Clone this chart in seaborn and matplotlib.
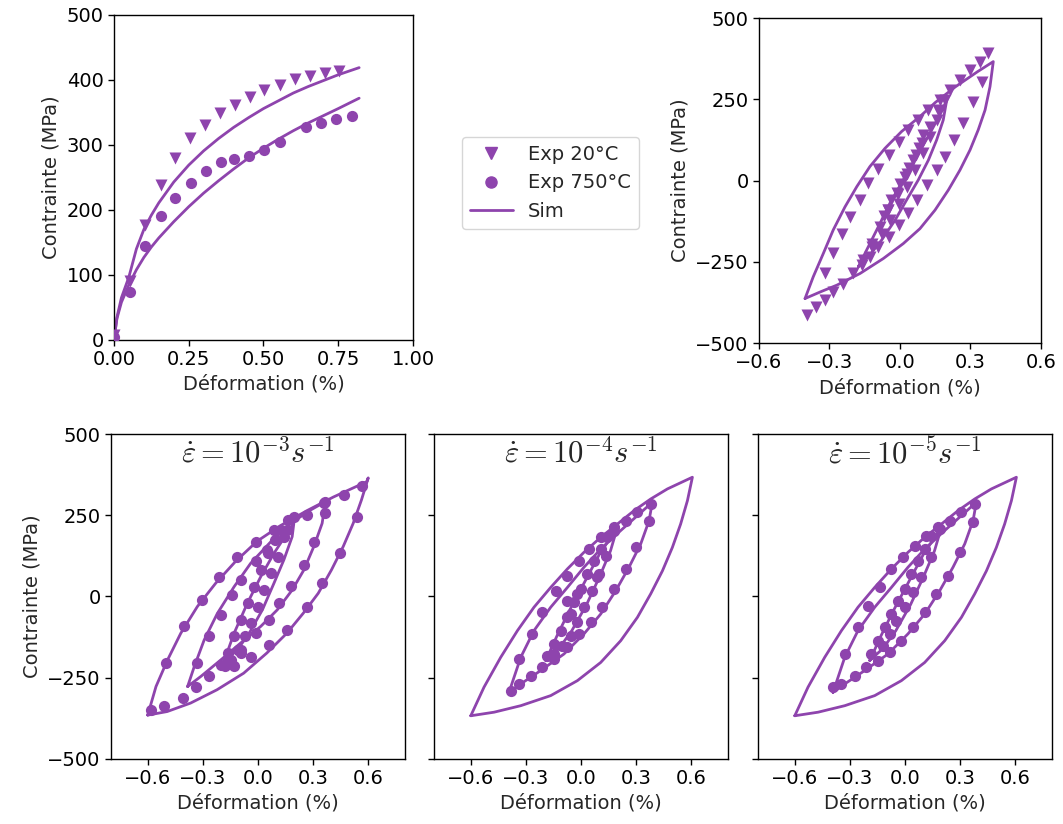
import numpy as np
import matplotlib
matplotlib.use("Agg")
import matplotlib.pyplot as plt
from matplotlib.lines import Line2D
import seaborn as sns

# ---- traction monotone (haut gauche) ----
exp20_x = [0.0, 0.052, 0.105, 0.156, 0.205, 0.253, 0.305, 0.353, 0.404, 0.454, 0.502, 0.554, 0.604, 0.654, 0.705, 0.752]
exp20_y = [8, 90, 177, 238, 280, 310, 331, 349, 362, 374, 385, 392, 401, 406, 410, 414]
exp750_x = [0.0, 0.052, 0.105, 0.156, 0.205, 0.256, 0.309, 0.359, 0.401, 0.451, 0.502, 0.554, 0.643, 0.693, 0.744, 0.797]
exp750_y = [5, 74, 145, 190, 218, 242, 260, 274, 278, 283, 293, 304, 327, 334, 340, 345]
sim_x = [0, 0.01, 0.025, 0.05, 0.075, 0.1, 0.125, 0.15, 0.2, 0.25, 0.3, 0.35, 0.4, 0.45, 0.5, 0.55, 0.6, 0.65, 0.7, 0.75, 0.82]
sim20_y = [0, 35, 65, 97, 140, 170, 192, 211, 243, 269, 291, 310, 327, 342, 356, 368, 380, 390, 399, 408, 419]
sim750_y = [0, 33, 58, 85, 108, 127, 143, 157, 182, 205, 226, 245, 263, 280, 295, 309, 322, 334, 345, 356, 372]

# ---- cyclique 20°C (haut droite) ----
tr_sim_outer_x = [-0.404, -0.369, -0.326, -0.284, -0.234, -0.184, -0.128, -0.064, 0.007, 0.085, 0.15, 0.235, 0.33, 0.397,
                  0.383, 0.362, 0.333, 0.298, 0.255, 0.206, 0.149, 0.085, 0.014, -0.071, -0.17, -0.269, -0.34, -0.404]
tr_sim_outer_y = [-363, -296, -224, -152, -81, -19, 43, 99, 151, 197, 240, 288, 335, 366,
                  289, 217, 156, 94, 32, -29, -91, -148, -194, -240, -286, -322, -343, -363]
tr_sim_inner_x = [-0.177, -0.142, -0.092, -0.043, 0.014, 0.071, 0.128, 0.177, 0.199,
                  0.184, 0.156, 0.121, 0.078, 0.028, -0.021, -0.078, -0.135, -0.177]
tr_sim_inner_y = [-265, -214, -142, -70, 2, 74, 146, 212, 248,
                  186, 125, 63, 2, -60, -122, -183, -235, -265]
tr_exp_x = [-0.319, -0.284, -0.248, -0.213, -0.170, -0.135, -0.092, -0.048, -0.006, 0.035, 0.078, 0.121, 0.17, 0.213,
            0.255, 0.298, 0.34, 0.376, 0.348, 0.312, 0.27, 0.23, 0.191, 0.156, 0.114, 0.071, 0.035, -0.006, -0.048,
            -0.092, -0.128, -0.163, -0.199, -0.241, -0.284, -0.319, -0.357, -0.397,
            -0.156, -0.121, -0.085, -0.05, -0.014, 0.021, 0.057, 0.092, 0.128, 0.163, 0.191,
            0.156, 0.128, 0.099, 0.064, 0.028, -0.006, -0.042, -0.078, -0.121,
            -0.07, -0.04, 0.0, 0.04, 0.08, 0.1, 0.07, 0.03, -0.01, -0.05]
tr_exp_y = [-286, -224, -163, -111, -60, -9, 37, 78, 119, 155, 186, 217, 248, 278,
            309, 340, 366, 391, 304, 243, 176, 125, 73, 32, -14, -60, -101, -137, -173,
            -204, -235, -260, -286, -317, -343, -368, -388, -413,
            -245, -194, -142, -91, -39, 12, 63, 114, 166, 217, 248,
            186, 135, 84, 32, -19, -71, -122, -163, -204,
            -110, -60, -10, 40, 100, 140, 80, 20, -40, -90]

# ---- cyclique 750°C, 1e-3 (bas gauche) ----
f3_sim_outer_x = [-0.6, -0.555, -0.492, -0.42, -0.33, -0.23, -0.122, -0.005, 0.122, 0.266, 0.41, 0.591, 0.6,
                  0.563, 0.518, 0.464, 0.4, 0.328, 0.247, 0.157, 0.048, -0.078, -0.223, -0.367, -0.494, -0.6]
f3_sim_outer_y = [-365, -277, -195, -113, -31, 41, 108, 170, 218, 264, 306, 353, 365,
                  297, 225, 154, 82, 10, -51, -113, -174, -236, -287, -328, -354, -365]
f3_sim_mid_x = [-0.383, -0.347, -0.293, -0.221, -0.13, -0.04, 0.069, 0.177, 0.286, 0.367,
                0.349, 0.304, 0.25, 0.186, 0.105, 0.015, -0.094, -0.202, -0.311, -0.383]
f3_sim_mid_y = [-277, -216, -134, -52, 30, 102, 168, 225, 266, 292,
                225, 154, 82, 20, -41, -92, -143, -195, -246, -277]
f3_sim_inner_x = [-0.182, -0.13, -0.058, 0.015, 0.087, 0.159, 0.195,
                  0.186, 0.141, 0.087, 0.024, -0.048, -0.112, -0.182]
f3_sim_inner_y = [-195, -113, -21, 61, 133, 195, 225,
                  184, 113, 41, -41, -113, -164, -195]
f3_exp_x = [-0.582, -0.5, -0.402, -0.302, -0.212, -0.112, -0.013, 0.087, 0.195, 0.358, 0.466, 0.566,
            0.539, 0.448, 0.349, 0.267, 0.159, 0.06, -0.04, -0.51, -0.41,
            -0.33, -0.266, -0.203, -0.14, -0.095, -0.013, 0.05, 0.159, 0.267, 0.367,
            0.367, 0.304, 0.25, 0.177, 0.114, 0.06, -0.013, -0.094, -0.203, -0.266, -0.338,
            -0.164, -0.128, -0.092, -0.055, -0.019, 0.017, 0.054, 0.09, 0.126, 0.162,
            0.144, 0.108, 0.072, 0.035, -0.001, -0.037, -0.073, -0.11, -0.146, -0.182, -0.128, -0.092]
f3_exp_y = [-349, -205, -92, -11, 61, 123, 169, 205, 246, 287, 313, 339,
            246, 133, 41, -31, -103, -149, -185, -338, -313,
            -205, -123, -56, 5, 51, 108, 144, 205, 251, 292,
            256, 169, 97, 31, -21, -72, -113, -164, -210, -246, -277,
            -175, -123, -72, -21, 30, 82, 133, 174, 205, 236,
            184, 123, 72, 20, -31, -82, -123, -164, -195, -215, -215, -175]

# ---- 1e-4 et 1e-5 : memes boucles simulees ----
sl_sim_outer_x = [-0.6, -0.528, -0.437, -0.346, -0.256, -0.165, -0.074, 0.016, 0.107, 0.198, 0.288, 0.379, 0.47, 0.606,
                  0.579, 0.542, 0.497, 0.443, 0.379, 0.307, 0.216, 0.107, -0.02, -0.165, -0.328, -0.473, -0.6]
sl_sim_outer_y = [-367, -279, -187, -105, -33, 28, 85, 136, 182, 223, 264, 300, 331, 367,
                  295, 223, 151, 79, 8, -64, -136, -203, -259, -305, -336, -356, -367]
sl_sim_mid_x = [-0.392, -0.328, -0.256, -0.165, -0.074, 0.016, 0.107, 0.216, 0.307, 0.388,
                0.37, 0.325, 0.261, 0.189, 0.107, 0.016, -0.093, -0.22, -0.328, -0.392]
sl_sim_mid_y = [-295, -187, -105, -33, 28, 90, 146, 203, 249, 290,
                233, 162, 90, 18, -54, -115, -177, -228, -269, -295]
sl_sim_inner_x = [-0.192, -0.13, -0.06, 0.02, 0.1, 0.198,
                  0.16, 0.1, 0.03, -0.05, -0.12, -0.192]
sl_sim_inner_y = [-197, -120, -40, 45, 130, 213,
                  140, 60, -25, -105, -160, -197]
f4_exp_x = [-0.383, -0.337, -0.265, -0.21, -0.138, -0.074, -0.011, 0.044, 0.107, 0.18, 0.243, 0.307, 0.379,
            0.37, 0.297, 0.243, 0.18, 0.116, 0.053, -0.011, -0.074, -0.147, -0.21, -0.274, -0.337,
            -0.183, -0.147, -0.111, -0.074, -0.038, -0.002, 0.034, 0.071, 0.107, 0.143, 0.18,
            0.134, 0.098, 0.062, 0.016, -0.02, -0.056, -0.102, -0.147,
            -0.056, -0.02, 0.089, -0.074]
f4_exp_y = [-290, -192, -115, -49, 18, 64, 110, 146, 182, 213, 233, 259, 285,
            233, 151, 85, 23, -33, -79, -115, -156, -192, -218, -244, -269,
            -182, -146, -105, -64, -18, 23, 69, 110, 146, 182, 203,
            126, 69, 18, -33, -79, -121, -151, -177,
            -54, 8, 59, -13]
f5_exp_x = [-0.392, -0.328, -0.256, -0.201, -0.138, -0.074, -0.011, 0.053, 0.116, 0.18, 0.243, 0.307, 0.379,
            0.37, 0.297, 0.234, 0.171, 0.107, 0.044, -0.02, -0.083, -0.147, -0.21, -0.274, -0.346,
            -0.183, -0.147, -0.111, -0.074, -0.038, -0.002, 0.034, 0.071, 0.107, 0.143, 0.189,
            0.143, 0.089, 0.044, -0.002, -0.047, -0.083, -0.12]
f5_exp_y = [-279, -177, -95, -28, 28, 85, 121, 156, 187, 213, 233, 259, 285,
            228, 136, 64, 8, -49, -95, -136, -172, -197, -218, -244, -269,
            -177, -136, -95, -54, -13, 23, 69, 110, 146, 187, 208,
            121, 59, 13, -33, -74, -115, -151]

rates = [r"$\dot{\varepsilon} = 10^{-3}s^{-1}$",
         r"$\dot{\varepsilon} = 10^{-4}s^{-1}$",
         r"$\dot{\varepsilon} = 10^{-5}s^{-1}$"]

purple = "#8e44ad"
sns.set_style("ticks")
plt.rcParams["font.family"] = ["DejaVu Sans"]
plt.rcParams["mathtext.fontset"] = "cm"
plt.rcParams["font.size"] = 14

fig = plt.figure(figsize=(10.63, 8.24), dpi=100)
ax_t = fig.add_axes([0.1072, 0.5874, 0.2813, 0.3944])
ax_c = fig.add_axes([0.714, 0.5837, 0.2653, 0.3944])
ax_b = [fig.add_axes([0.1044, 0.0789, 0.2766, 0.3944]),
        fig.add_axes([0.4083, 0.0789, 0.2766, 0.3944]),
        fig.add_axes([0.7131, 0.0789, 0.2766, 0.3944])]

lw = 2.0


def loop(ax, x, y):
    sns.lineplot(x=x, y=y, sort=False, estimator=None, color=purple, lw=lw, ax=ax)


def points(ax, x, y, marker, s=65):
    sns.scatterplot(x=x, y=y, marker=marker, s=s, color=purple, linewidth=0, ax=ax, zorder=3)


# monotone
points(ax_t, exp20_x, exp20_y, "v", 75)
points(ax_t, exp750_x, exp750_y, "o")
loop(ax_t, sim_x, sim20_y)
loop(ax_t, sim_x, sim750_y)
ax_t.set_xlim(0, 1)
ax_t.set_ylim(0, 500)
ax_t.set_xticks([0, 0.25, 0.5, 0.75, 1.0])
ax_t.set_xticklabels(["0.00", "0.25", "0.50", "0.75", "1.00"])
ax_t.set_yticks([0, 100, 200, 300, 400, 500])

# cyclique 20°C
points(ax_c, tr_exp_x, tr_exp_y, "v", 75)
loop(ax_c, tr_sim_outer_x, tr_sim_outer_y)
loop(ax_c, tr_sim_inner_x, tr_sim_inner_y)
ax_c.set_xlim(-0.6, 0.6)
ax_c.set_ylim(-500, 500)
ax_c.set_xticks([-0.6, -0.3, 0, 0.3, 0.6])
ax_c.set_yticks([-500, -250, 0, 250, 500])

# vitesses
points(ax_b[0], f3_exp_x, f3_exp_y, "o")
loop(ax_b[0], f3_sim_outer_x, f3_sim_outer_y)
loop(ax_b[0], f3_sim_mid_x, f3_sim_mid_y)
loop(ax_b[0], f3_sim_inner_x, f3_sim_inner_y)
for ax, ex, ey in [(ax_b[1], f4_exp_x, f4_exp_y), (ax_b[2], f5_exp_x, f5_exp_y)]:
    points(ax, ex, ey, "o")
    loop(ax, sl_sim_outer_x, sl_sim_outer_y)
    loop(ax, sl_sim_mid_x, sl_sim_mid_y)
    loop(ax, sl_sim_inner_x, sl_sim_inner_y)

for i, ax in enumerate(ax_b):
    ax.set_xlim(-0.8, 0.8)
    ax.set_ylim(-500, 500)
    ax.set_xticks([-0.6, -0.3, 0, 0.3, 0.6])
    ax.set_yticks([-500, -250, 0, 250, 500])
    ax.text(0.5, 0.99, rates[i], transform=ax.transAxes, ha="center", va="top", fontsize=22)
    if i > 0:
        ax.set_yticklabels([])

for ax in [ax_t, ax_c] + ax_b:
    ax.set_xlabel("Déformation (%)", fontsize=14)
    ax.tick_params(labelsize=14, length=4, width=1, colors="black")
    for s in ax.spines.values():
        s.set_visible(True)
        s.set_color("black")
        s.set_linewidth(1)
for ax in [ax_t, ax_c, ax_b[0]]:
    ax.set_ylabel("Contrainte (MPa)", fontsize=14)

handles = [Line2D([], [], marker="v", ls="none", color=purple, markersize=8, label="Exp 20°C"),
           Line2D([], [], marker="o", ls="none", color=purple, markersize=8, label="Exp 750°C"),
           Line2D([], [], color=purple, lw=lw, label="Sim")]
fig.legend(handles=handles, loc="upper left", bbox_to_anchor=(0.4255, 0.8457), fontsize=14,
           frameon=True, edgecolor="#cccccc", handlelength=2.2)

fig.savefig("out.png", dpi=100)
